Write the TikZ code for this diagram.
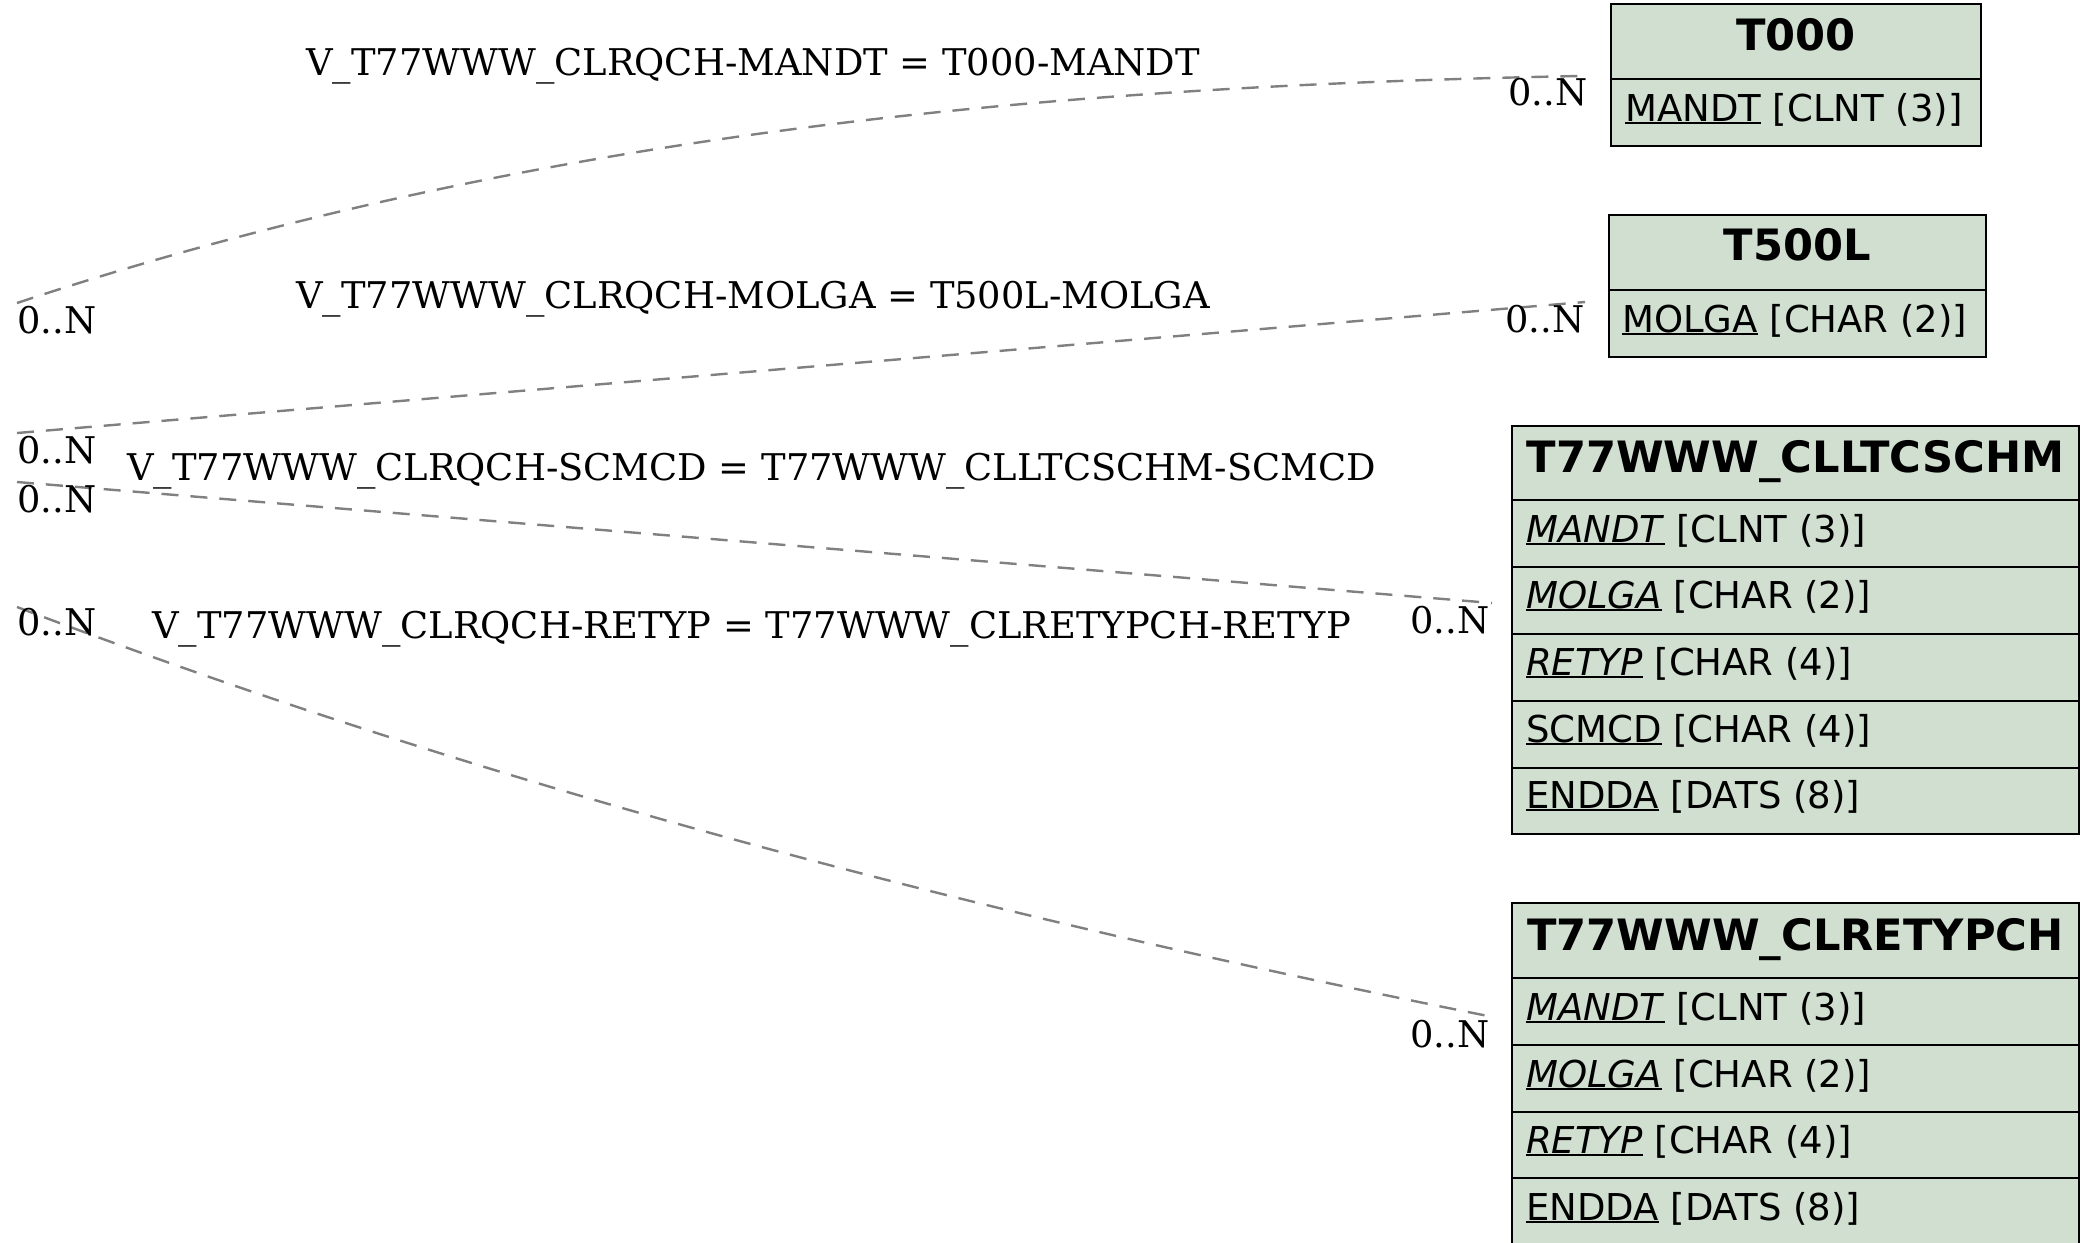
\documentclass[tikz,border=0pt]{standalone}
\usepackage{fontspec}
\setmainfont{DejaVu Serif}
\newfontfamily\tabfont{DejaVu Sans}
\definecolor{tblfill}{HTML}{D0DFD0}
\newcommand\keyul[1]{\setbox0\hbox{#1}\rlap{\rule[-3pt]{\wd0}{1.8pt}}\box0\relax}
\begin{document}
\begin{tikzpicture}[x=1pt,y=-1pt,
  cell/.style={draw=black, line width=2pt, fill=tblfill, anchor=north west, inner sep=0pt, outer sep=0pt},
  hdrtxt/.style={anchor=base, inner sep=0pt, font=\tabfont\bfseries\fontsize{43.2}{50}\selectfont},
  rowtxt/.style={anchor=base west, inner sep=0pt, font=\tabfont\fontsize{37}{44}\selectfont},
  card/.style={anchor=base west, inner sep=0pt, font=\fontsize{36.8}{44}\selectfont},
  rellbl/.style={anchor=base west, inner sep=0pt, font=\fontsize{36.8}{44}\selectfont},
  rel/.style={draw=gray, line width=2.4pt, dash pattern=on 17pt off 12pt}]
\useasboundingbox (0,0) rectangle (2092,1242);
\clip (0,0) rectangle (2092,1242);
\fill[white] (0,0) rectangle (2092,1242);

% T000
\node[cell, minimum width=370pt, minimum height=75pt] (t0h) at (1611,4) {};
\node[cell, minimum width=370pt, minimum height=67pt] (t0r1) at (1611,79) {};
\node[hdrtxt] (t0ht) at (1796,50) {T000};
\node[rowtxt] (t0r1t) at (1625,121) {\keyul{MANDT} [CLNT (3)]};

% T500L
\node[cell, minimum width=377pt, minimum height=75pt] (t5h) at (1609,215) {};
\node[cell, minimum width=377pt, minimum height=67pt] (t5r1) at (1609,290) {};
\node[hdrtxt] (t5ht) at (1797.5,260) {T500L};
\node[rowtxt] (t5r1t) at (1622,332) {\keyul{MOLGA} [CHAR (2)]};

% T77WWW_CLLTCSCHM
\node[cell, minimum width=567pt, minimum height=74pt] (ch) at (1512,426) {};
\node[cell, minimum width=567pt, minimum height=67pt] (c1) at (1512,500) {};
\node[cell, minimum width=567pt, minimum height=67pt] (c2) at (1512,567) {};
\node[cell, minimum width=567pt, minimum height=67pt] (c3) at (1512,634) {};
\node[cell, minimum width=567pt, minimum height=67pt] (c4) at (1512,701) {};
\node[cell, minimum width=567pt, minimum height=66pt] (c5) at (1512,768) {};
\node[hdrtxt] (cht) at (1795.5,472) {T77WWW\_CLLTCSCHM};
\node[rowtxt] (c1t) at (1526,542) {\keyul{\textit{MANDT}} [CLNT (3)]};
\node[rowtxt] (c2t) at (1526,608) {\keyul{\textit{MOLGA}} [CHAR (2)]};
\node[rowtxt] (c3t) at (1526,675) {\keyul{\textit{RETYP}} [CHAR (4)]};
\node[rowtxt] (c4t) at (1526,742) {\keyul{SCMCD} [CHAR (4)]};
\node[rowtxt] (c5t) at (1526,808) {\keyul{ENDDA} [DATS (8)]};

% T77WWW_CLRETYPCH
\node[cell, minimum width=567pt, minimum height=75pt] (rh) at (1512,903) {};
\node[cell, minimum width=567pt, minimum height=67pt] (r1) at (1512,978) {};
\node[cell, minimum width=567pt, minimum height=67pt] (r2) at (1512,1045) {};
\node[cell, minimum width=567pt, minimum height=66pt] (r3) at (1512,1112) {};
\node[cell, minimum width=567pt, minimum height=67pt] (r4) at (1512,1178) {};
\node[hdrtxt] (rht) at (1795.5,950) {T77WWW\_CLRETYPCH};
\node[rowtxt] (r1t) at (1526,1020) {\keyul{\textit{MANDT}} [CLNT (3)]};
\node[rowtxt] (r2t) at (1526,1087) {\keyul{\textit{MOLGA}} [CHAR (2)]};
\node[rowtxt] (r3t) at (1526,1153) {\keyul{\textit{RETYP}} [CHAR (4)]};
\node[rowtxt] (r4t) at (1526,1220) {\keyul{ENDDA} [DATS (8)]};

% connector ends
\coordinate (s1) at (17,303);
\coordinate (s2) at (17,433);
\coordinate (s3) at (17,482);
\coordinate (s4) at (17,607);
\coordinate (e1) at ([xshift=-31pt,yshift=3pt]t0h.south west);
\coordinate (e2) at ([xshift=-24pt,yshift=-12pt]t5h.south west);
\coordinate (e3) at ([xshift=-20pt,yshift=-2.5pt]c2.west);
\coordinate (e4) at ([xshift=-24pt,yshift=-4.5pt]r1.west);

\draw[rel] (s1) .. controls (538,130) and (1060,86) .. (e1);
\draw[rel] (s2) -- (e2);
\draw[rel] (s3) -- (e3);
\draw[rel] (s4) .. controls (507,793) and (998,918) .. (e4);

% cardinalities
\node[card] (k1a) at (17,333) {0..N};
\node[card] (k1b) at (1508,105) {0..N};
\node[card] (k2a) at (17,463) {0..N};
\node[card] (k2b) at (1505,332) {0..N};
\node[card] (k3a) at (17,512) {0..N};
\node[card] (k3b) at (1410,633) {0..N};
\node[card] (k4a) at (17,635) {0..N};
\node[card] (k4b) at (1410,1047) {0..N};

% relation labels
\node[rellbl] (l1) at (306,75) {V\_T77WWW\_CLRQCH-MANDT = T000-MANDT};
\node[rellbl] (l2) at (296,308) {V\_T77WWW\_CLRQCH-MOLGA = T500L-MOLGA};
\node[rellbl] (l3) at (127,480) {V\_T77WWW\_CLRQCH-SCMCD = T77WWW\_CLLTCSCHM-SCMCD};
\node[rellbl] (l4) at (152,638) {V\_T77WWW\_CLRQCH-RETYP = T77WWW\_CLRETYPCH-RETYP};
\end{tikzpicture}
\end{document}
